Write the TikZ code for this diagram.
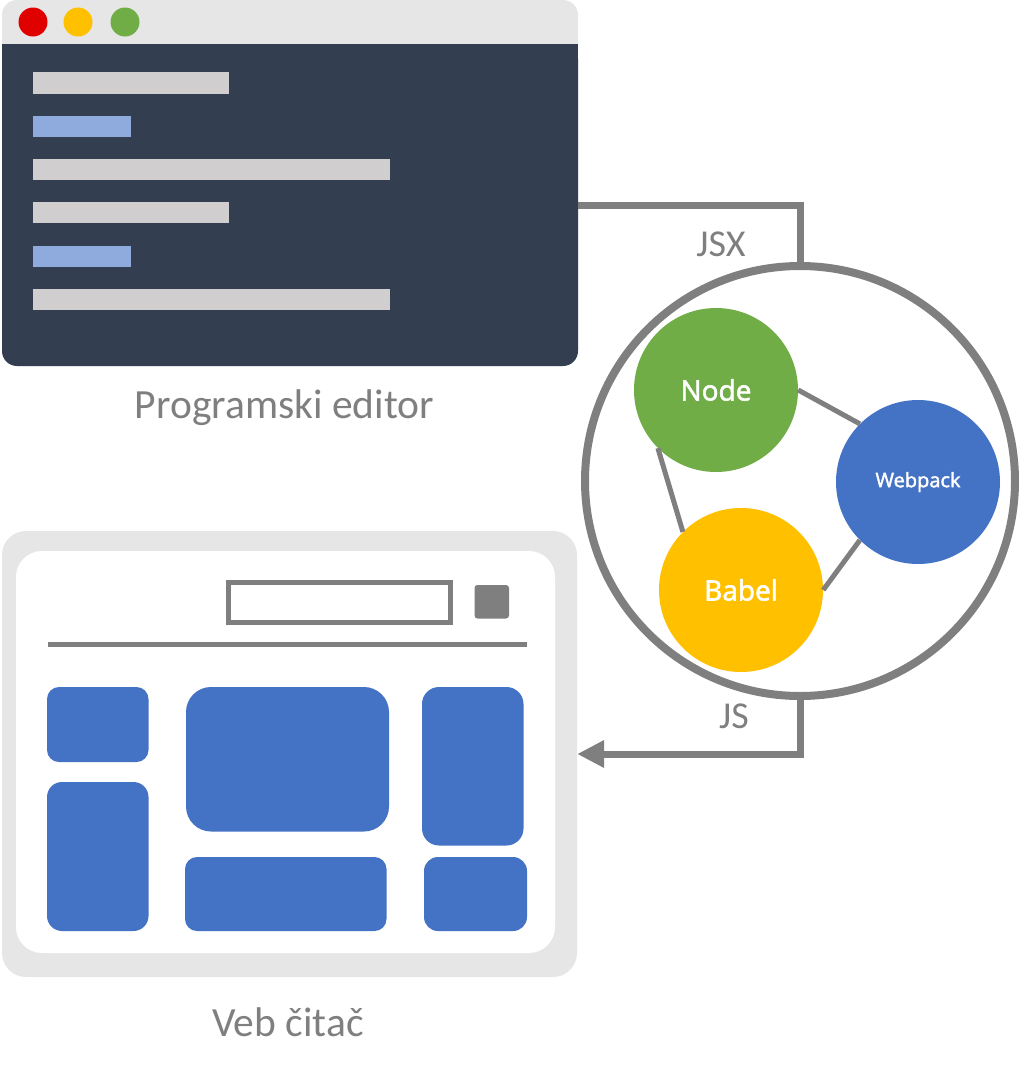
\documentclass[tikz,border=0pt]{standalone}
\usepackage{fontspec}
\setmainfont{Carlito}
\newfontfamily\circfont{Open Sans}[FakeBold=2]
\usetikzlibrary{arrows.meta}
\definecolor{lightbar}{HTML}{E7E6E6}
\definecolor{darkbody}{HTML}{333F50}
\definecolor{codegray}{HTML}{D0CECE}
\definecolor{codeblue}{HTML}{8FAADC}
\definecolor{tlred}{HTML}{E00000}
\definecolor{tlyellow}{HTML}{FFC000}
\definecolor{tlgreen}{HTML}{70AD47}
\definecolor{linegray}{HTML}{7F7F7F}
\definecolor{blockblue}{HTML}{4472C4}
\tikzset{
  codeline/.style={fill=codegray},
  codehl/.style={fill=codeblue},
  block/.style={fill=blockblue},
  caption/.style={text=linegray, font=\fontsize{41.5}{46}\selectfont, anchor=base},
  flowlabel/.style={text=linegray, font=\fontsize{38}{44}\selectfont, anchor=base},
  tool/.style={circle, minimum size=164pt, inner sep=0pt, text=white, font=\circfont\fontsize{28}{32}\selectfont},
  flow/.style={draw=linegray, line width=7pt},
  link/.style={draw=linegray, line width=5pt},
}
\begin{document}
\begin{tikzpicture}[x=1pt, y=-1pt]
\useasboundingbox (0,0) rectangle (1019,1072);

% ---------- editor window ----------
\fill[lightbar, rounded corners=15pt] (2,0) rectangle (578,366);
\fill[darkbody, rounded corners=15pt] (2,44) rectangle (578,366);
\fill[darkbody] (2,44) rectangle (578,90);
\node[circle, fill=tlred, minimum size=29pt, inner sep=0pt] (red) at (33,22) {};
\node[circle, fill=tlyellow, minimum size=29pt, inner sep=0pt] (yellow) at (78,22) {};
\node[circle, fill=tlgreen, minimum size=29pt, inner sep=0pt] (green) at (125,22) {};
\fill[codeline] (33,72) rectangle (229,94);
\fill[codehl]   (33,116) rectangle (131,137);
\fill[codeline] (33,159) rectangle (390,180);
\fill[codeline] (33,202) rectangle (229,223);
\fill[codehl]   (33,246) rectangle (131,267);
\fill[codeline] (33,289) rectangle (390,310);
\node[minimum width=576pt, minimum height=366pt, inner sep=0pt] (editor) at (290,183) {};
\node[caption] (edlabel) at (284.5,418) {Programski editor};

% ---------- browser window ----------
\fill[lightbar, rounded corners=24pt] (2,531) rectangle (577,977);
\fill[white, rounded corners=26pt] (16,551) rectangle (555,953);
\draw[linegray, line width=5pt] (228,582) rectangle (450.5,622.5);
\fill[linegray, rounded corners=3pt] (474.5,585) rectangle (509,618.5);
\draw[linegray, line width=5pt] (48,644) -- (527,644);
\fill[block, rounded corners=12pt] (47,687) rectangle (148.5,762);
\fill[block, rounded corners=15pt] (47,782) rectangle (148.5,931);
\fill[block, rounded corners=25pt] (186,687) rectangle (389,831.5);
\fill[block, rounded corners=12pt] (185,857) rectangle (386.5,931);
\fill[block, rounded corners=17pt] (422,687) rectangle (523.5,845.5);
\fill[block, rounded corners=14pt] (424,857) rectangle (527,931);
\node[minimum width=575pt, minimum height=446pt, inner sep=0pt] (browser) at (289.5,754) {};
\node[caption] (brlabel) at (288,1036) {Veb čitač};

% ---------- build tools ----------
\node[circle, draw=linegray, line width=8pt, fill=white, minimum size=430pt, inner sep=0pt] (hub) at (800,481) {};
\node[tool, fill=tlgreen] (node) at (716,390) {Node};
\node[tool, fill=blockblue] (webpack) at (918,482) {\fontsize{20}{24}\selectfont Webpack};
\node[tool, fill=tlyellow] (babel) at (741,590) {Babel};
\draw[link] (node.0) -- (webpack.135);
\draw[link] (node.225) -- (babel.135);
\draw[link] (babel.0) -- (webpack.225);

% ---------- flow ----------
\coordinate (jsxstart) at (578,205);
\draw[flow] (jsxstart) -| (hub.north);
\draw[flow, -{Triangle[length=27pt, width=26pt]}] (hub.south) |- (browser.east);
\node[flowlabel] (jsx) at (721,256) {JSX};
\node[flowlabel] (js) at (734,728) {JS};
\end{tikzpicture}
\end{document}
